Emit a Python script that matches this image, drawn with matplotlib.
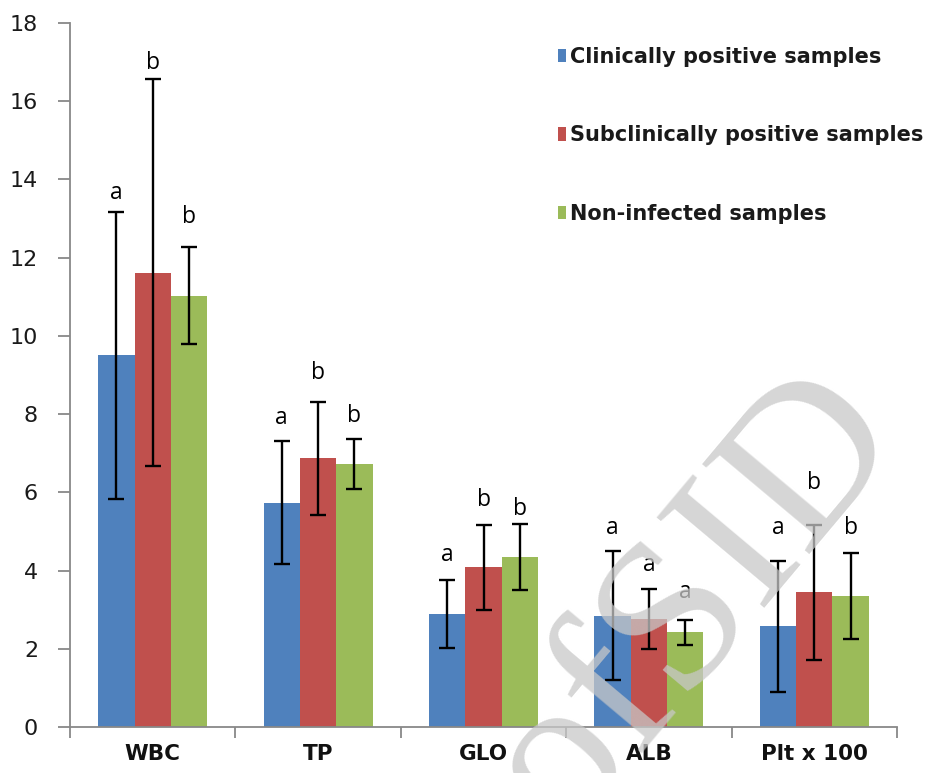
import matplotlib
matplotlib.use("Agg")
import matplotlib.pyplot as plt
import numpy as np
from matplotlib.patches import Patch

categories = ["WBC", "TP", "GLO", "ALB", "Plt x 100"]
series_names = ["Clinically positive samples",
                "Subclinically positive samples",
                "Non-infected samples"]
clinical = [9.50, 5.74, 2.89, 2.84, 2.57]
clinical_err = [3.66, 1.56, 0.87, 1.65, 1.68]
subclinical = [11.62, 6.87, 4.08, 2.76, 3.44]
subclinical_err = [4.95, 1.45, 1.08, 0.77, 1.72]
noninfected = [11.03, 6.73, 4.34, 2.42, 3.35]
noninfected_err = [1.24, 0.64, 0.84, 0.32, 1.10]
letters_clinical = ["a", "a", "a", "a", "a"]
letters_subclinical = ["b", "b", "b", "a", "b"]
letters_noninfected = ["b", "b", "b", "a", "b"]
letter_y_clinical = [13.66, 7.89, 4.40, 5.08, 5.08]
letter_y_subclinical = [16.98, 9.05, 5.81, 4.13, 6.23]
letter_y_noninfected = [13.04, 7.94, 5.57, 3.46, 5.08]
yticks = [0, 2, 4, 6, 8, 10, 12, 14, 16, 18]

colors = ["#4F81BD", "#C0504D", "#9BBB59"]

fig = plt.figure(figsize=(9.3, 7.73), dpi=100)
ax = fig.add_axes([70/930, 1-727/773, 827/930, 704/773])

x = np.arange(len(categories))
w = 0.22
values = [clinical, subclinical, noninfected]
errs = [clinical_err, subclinical_err, noninfected_err]
letters = [letters_clinical, letters_subclinical, letters_noninfected]
letter_ys = [letter_y_clinical, letter_y_subclinical, letter_y_noninfected]

for i in range(3):
    xs = x + (i - 1) * w
    ax.bar(xs, values[i], width=w, color=colors[i], zorder=2, linewidth=0)
    ax.errorbar(xs, values[i], yerr=errs[i], fmt="none", ecolor="black",
                elinewidth=1.7, capsize=5.5, capthick=1.7, zorder=5)
    for xi, lt, ly in zip(xs, letters[i], letter_ys[i]):
        ax.text(xi, ly, lt, ha="center", va="center", fontsize=16.5,
                family="Open Sans", color="black", zorder=3)

ax.set_xlim(-0.5, len(categories) - 0.5)
ax.set_ylim(0, 18)
ax.set_yticks(yticks)
ax.set_yticklabels([str(t) for t in yticks], fontsize=16, color="#1a1a1a")
ax.set_xticks(np.arange(-0.5, len(categories), 1.0))
ax.set_xticklabels([])
ax.set_xticks(x, minor=True)
ax.set_xticklabels(categories, minor=True, fontsize=15.5, fontweight="bold",
                   color="#111111")
ax.tick_params(axis="x", which="minor", length=0, pad=12)
ax.tick_params(axis="x", which="major", length=8, color="#888888", width=1.3,
               direction="out")
ax.tick_params(axis="y", length=9, color="#888888", width=1.3, pad=14)
for s in ["top", "right"]:
    ax.spines[s].set_visible(False)
for s in ["left", "bottom"]:
    ax.spines[s].set_color("#888888")
    ax.spines[s].set_linewidth(1.3)

handles = [Patch(facecolor=c, edgecolor="none") for c in colors]
leg = fig.legend(handles, series_names, loc="upper left",
                 bbox_to_anchor=(558/930, 1-47/773), frameon=False,
                 prop={"size": 15, "weight": "bold", "family": "DejaVu Sans"},
                 handlelength=0.4, handleheight=0.6, handletextpad=0.2,
                 labelspacing=2.8, borderaxespad=0, borderpad=0)
for t in leg.get_texts():
    t.set_color("#1a1a1a")

# watermark
fig.text(0.748, 0.222, "ofSID", fontsize=155, family="Liberation Serif",
         color="#c8c8c8", alpha=0.75, rotation=50, ha="center", va="center",
         rotation_mode="anchor", zorder=4)

fig.savefig("out.png", dpi=100)
